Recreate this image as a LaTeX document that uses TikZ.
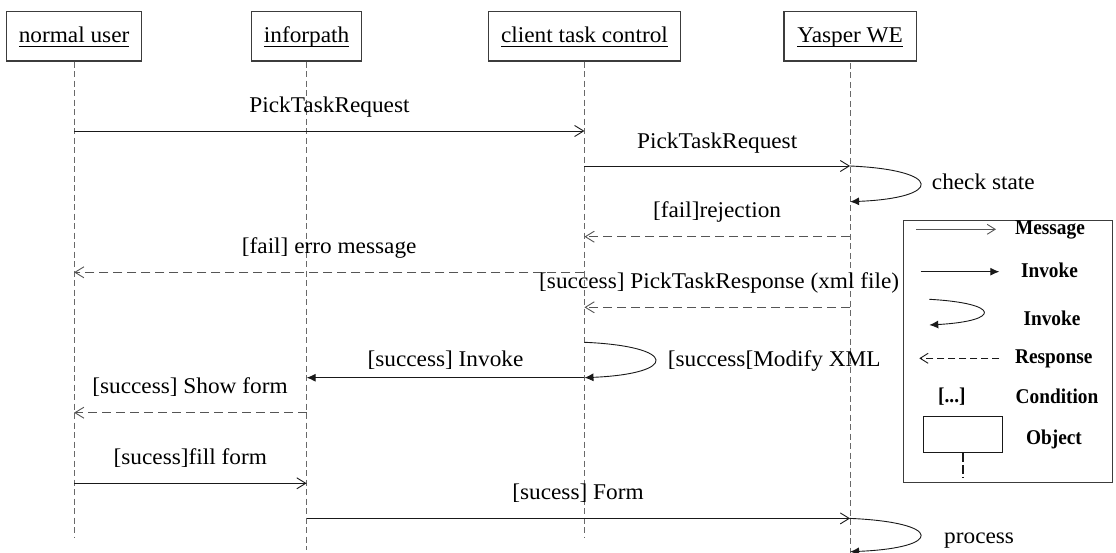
\documentclass[tikz,border=0pt]{standalone}
\usepackage{fontspec}
\setmainfont{Liberation Serif}[FakeStretch=1.035]
\newfontfamily\legendfamily{Liberation Serif}[FakeStretch=0.92]
\usetikzlibrary{arrows.meta}

\definecolor{boxc}{RGB}{60,60,60}
\definecolor{lifec}{RGB}{105,105,105}
\definecolor{msgc}{RGB}{25,25,25}
\definecolor{respc}{RGB}{85,85,85}

\newcommand\mainsize{\fontsize{22.5}{26}\selectfont}
\newcommand\legsize{\legendfamily\bfseries\fontsize{21}{24}\selectfont}
% underlined object name, rule set a little below the baseline
\newcommand\objname[1]{\setbox0=\hbox{#1}\rlap{\rule[-4.5pt]{\wd0}{0.9pt}}\box0}

\tikzset{
  objbox/.style={draw=boxc, line width=1.2pt, minimum height=49.3pt, inner sep=0pt,
                 text height=17.5pt, text depth=5pt, font=\mainsize},
  lifeline/.style={draw=lifec, line width=1.1pt, dash pattern=on 6pt off 3.5pt},
  msg/.style={draw=msgc, line width=0.9pt,
              -{Straight Barb[length=9pt,width=11pt,line width=0.9pt]}},
  resp/.style={draw=respc, line width=1pt, dash pattern=on 9pt off 5pt,
               -{Straight Barb[length=9pt,width=11pt,line width=0.9pt]}},
  inv/.style={draw=msgc, line width=0.9pt, -{Latex[length=9pt,width=8pt]}},
  lbl/.style={font=\mainsize, anchor=base, inner sep=0pt},
  leglbl/.style={font=\legsize, anchor=base, inner sep=0pt},
}

\begin{document}
\begin{tikzpicture}[x=1pt,y=-1pt]
\useasboundingbox (0,0) rectangle (1116,553);

% objects
\node[objbox, minimum width=135.4pt] (nu) at (74.1,36.35) {\objname{normal user}};
\node[objbox, minimum width=109.6pt] (ip) at (306.6,36.35) {\objname{inforpath}};
\node[objbox, minimum width=191.7pt] (ct) at (584.45,36.35) {\objname{client task control}};
\node[objbox, minimum width=132.2pt] (yw) at (850.1,36.35) {\objname{Yasper WE}};

% lifeline ends
\coordinate (endA) at (0,538.3);
\coordinate (endB) at (0,550);
\coordinate (endC) at (0,553);
\coordinate (ywTop) at (0,63);

\draw[lifeline] (nu.south) -- (nu |- endA);
\draw[lifeline] (ip.south) -- (ip |- endB);
\draw[lifeline] (ct.south) -- (ct |- endA);
\draw[lifeline] (yw |- ywTop) -- (yw |- endC);

% message rows
\coordinate (r1) at (0,131);
\coordinate (r2) at (0,166);
\coordinate (r3) at (0,201.7);
\coordinate (r4) at (0,236.7);
\coordinate (r5) at (0,272.3);
\coordinate (r6) at (0,307.3);
\coordinate (r7) at (0,342.3);
\coordinate (r8) at (0,377.7);
\coordinate (r9) at (0,412.7);
\coordinate (r10) at (0,483.3);
\coordinate (r11) at (0,518.4);
\coordinate (r12) at (0,551.7);

% messages
\draw[msg] (nu |- r1) -- (ct |- r1);
\node[lbl] (l1) at (329.5,113) {PickTaskRequest};

\draw[msg] (ct |- r2) -- (yw |- r2);
\node[lbl] (l2) at (717.2,148.3) {PickTaskRequest};

\draw[inv] (yw |- r2) .. controls +(93.3,4) and +(93.3,-3.7) .. (yw |- r3);
\node[lbl, anchor=base west] (l3) at (931.7,190) {check state};

\draw[resp] (yw |- r4) -- (ct |- r4);
\node[lbl] (l4) at (717,217.3) {[fail]rejection};

\draw[resp] (ct |- r5) -- (nu |- r5);
\node[lbl] (l5) at (329.2,253.3) {[fail] erro message};

\draw[resp] (yw |- r6) -- (ct |- r6);
\node[lbl, anchor=base east] (l6) at (899.3,289) {[success] PickTaskResponse (xml file)};

\draw[inv] (ct |- r7) .. controls +(94,4) and +(94,-4) .. (ct |- r8);
\node[lbl, anchor=base west] (l7) at (667.7,366.7) {[success[Modify XML};

\draw[inv] (ct |- r8) -- (ip |- r8);
\node[lbl] (l8) at (445.5,366) {[success] Invoke};

\draw[resp] (ip |- r9) -- (nu |- r9);
\node[lbl] (l9) at (190,393.3) {[success] Show form};

\draw[msg] (nu |- r10) -- (ip |- r10);
\node[lbl] (l10) at (190.3,464) {[sucess]fill form};

\draw[msg] (ip |- r11) -- (yw |- r11);
\node[lbl] (l11) at (578,499.3) {[sucess] Form};

\draw[inv] (yw |- r11) .. controls +(93.3,4) and +(93.3,-3.8) .. (yw |- r12);
\node[lbl, anchor=base west] (l12) at (944,543.3) {process};

% legend
\node[draw=boxc, line width=1.3pt, minimum width=209.4pt, minimum height=261.8pt,
      inner sep=0pt] (legend) at (1008,351.6) {};

\coordinate (lgA1) at (916,229.3);
\coordinate (lgA2) at (996,229.3);
\draw[draw=respc, line width=0.9pt,
      -{Straight Barb[length=8pt,width=10pt,line width=0.9pt]}] (lgA1) -- (lgA2);
\node[leglbl] (lgMsg) at (1050,235) {Message};

\coordinate (lgB1) at (920.7,271.7);
\coordinate (lgB2) at (999.3,271.7);
\draw[inv] (lgB1) -- (lgB2);
\node[leglbl] (lgInv) at (1049.5,277.3) {Invoke};

\coordinate (lgC1) at (929.3,299.3);
\coordinate (lgC2) at (929.3,325);
\draw[inv] (lgC1) .. controls +(72,4) and +(72,-4) .. (lgC2);
\node[leglbl] (lgSelf) at (1052,325) {Invoke};

\coordinate (lgD1) at (999.3,358.3);
\coordinate (lgD2) at (919.3,358.3);
\draw[draw=msgc, line width=1.6pt, dash pattern=on 7pt off 4pt,
      -{Straight Barb[length=8pt,width=10pt,line width=0.9pt]}] (lgD1) -- (lgD2);
\node[leglbl] (lgResp) at (1053.8,363.3) {Response};

\node[leglbl] (lgCondSym) at (951.9,402) {[...]};
\node[leglbl] (lgCond) at (1057,403) {Condition};

\node[draw=msgc, line width=1pt, minimum width=79pt, minimum height=36.3pt,
      inner sep=0pt] (lgObj) at (962.8,434.15) {};
\coordinate (lgE) at (962.8,478);
\draw[draw=msgc, line width=1.8pt, dash pattern=on 9pt off 3pt] (lgObj.south) -- (lgE);
\node[leglbl] (lgObjTxt) at (1054,444) {Object};
\end{tikzpicture}
\end{document}
